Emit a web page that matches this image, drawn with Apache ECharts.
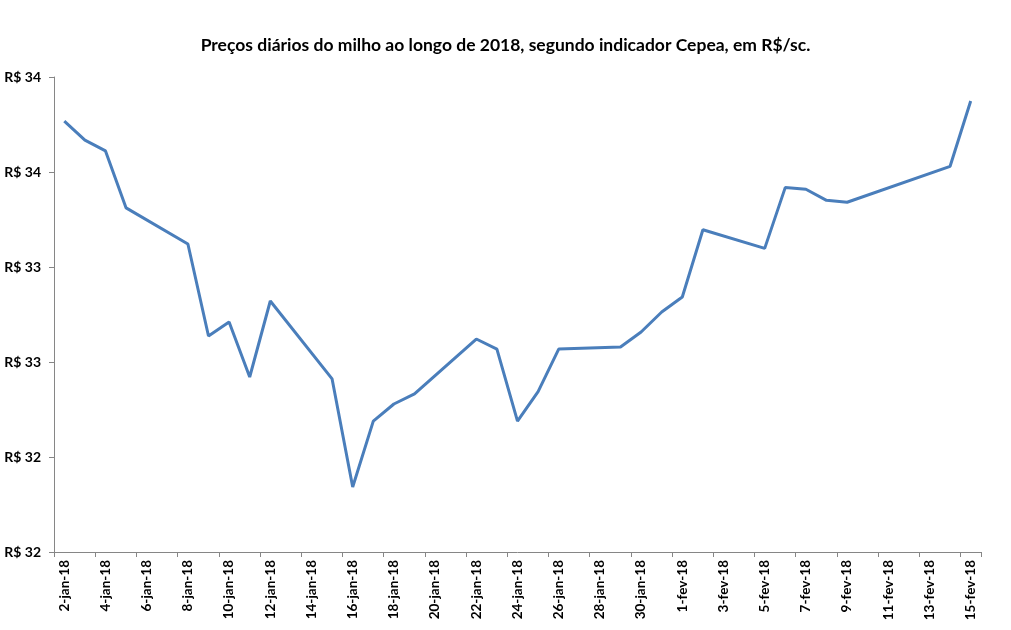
<!DOCTYPE html>
<html>
<head>
<meta charset="utf-8">
<script src="https://cdn.jsdelivr.net/npm/echarts@6/dist/echarts.min.js"></script>
<style>
html,body{margin:0;padding:0;background:#fff;}
#chart{width:1011px;height:630px;}
</style>
</head>
<body>
<div id="chart"></div>
<script>
var chartTitle = 'Preços diários do milho ao longo de 2018, segundo indicador Cepea, em R$/sc.';

var dayLabels = [
  '2-jan-18','3-jan-18','4-jan-18','5-jan-18','6-jan-18','7-jan-18','8-jan-18','9-jan-18',
  '10-jan-18','11-jan-18','12-jan-18','13-jan-18','14-jan-18','15-jan-18','16-jan-18','17-jan-18',
  '18-jan-18','19-jan-18','20-jan-18','21-jan-18','22-jan-18','23-jan-18','24-jan-18','25-jan-18',
  '26-jan-18','27-jan-18','28-jan-18','29-jan-18','30-jan-18','31-jan-18',
  '1-fev-18','2-fev-18','3-fev-18','4-fev-18','5-fev-18','6-fev-18','7-fev-18','8-fev-18',
  '9-fev-18','10-fev-18','11-fev-18','12-fev-18','13-fev-18','14-fev-18','15-fev-18'
];

var prices = [
  33.768, 33.668, 33.611, 33.311, null, null, 33.121, 32.637,
  32.711, 32.421, 32.821, null, null, 32.411, 31.842, 32.189,
  32.279, 32.332, null, null, 32.621, 32.568, 32.189, 32.344,
  32.568, null, null, 32.579, 32.658, 32.763,
  32.842, 33.196, null, null, 33.098, 33.419, 33.409, 33.351,
  33.341, null, null, null, null, 33.530, 33.874
];

var yMin = 31.5, yMax = 34, yStep = 0.5;

var chart = echarts.init(document.getElementById('chart'));
chart.setOption({
  backgroundColor: '#ffffff',
  animation: false,
  title: {
    text: chartTitle,
    left: 'center',
    top: 31,
    textStyle: { fontFamily: 'Lato', fontWeight: 'bold', fontSize: 17.5, color: '#000' }
  },
  grid: { left: 54, right: 30, top: 77, bottom: 78, containLabel: false },
  xAxis: {
    type: 'category',
    data: dayLabels,
    boundaryGap: true,
    axisLine: { lineStyle: { color: '#868686', width: 1 } },
    axisTick: { show: true, interval: 1, length: 5, lineStyle: { color: '#868686' } },
    axisLabel: {
      interval: 1,
      rotate: 90,
      margin: 8,
      fontFamily: 'Lato',
      fontWeight: 'bold',
      fontSize: 13.5,
      color: '#000'
    },
    splitLine: { show: false }
  },
  yAxis: {
    type: 'value',
    min: yMin,
    max: yMax,
    interval: yStep,
    axisLine: { show: true, lineStyle: { color: '#868686', width: 1 } },
    axisTick: { show: true, length: 5, lineStyle: { color: '#868686' } },
    axisLabel: {
      margin: 13,
      fontFamily: 'Lato',
      fontWeight: 'bold',
      fontSize: 14,
      color: '#000',
      formatter: function (v) { return 'R$ ' + Math.round(v); }
    },
    splitLine: { show: false }
  },
  series: [{
    type: 'line',
    data: prices,
    connectNulls: true,
    showSymbol: false,
    symbol: 'none',
    lineStyle: { color: '#4A7EBB', width: 3 },
    itemStyle: { color: '#4A7EBB' }
  }]
});
</script>
</body>
</html>
